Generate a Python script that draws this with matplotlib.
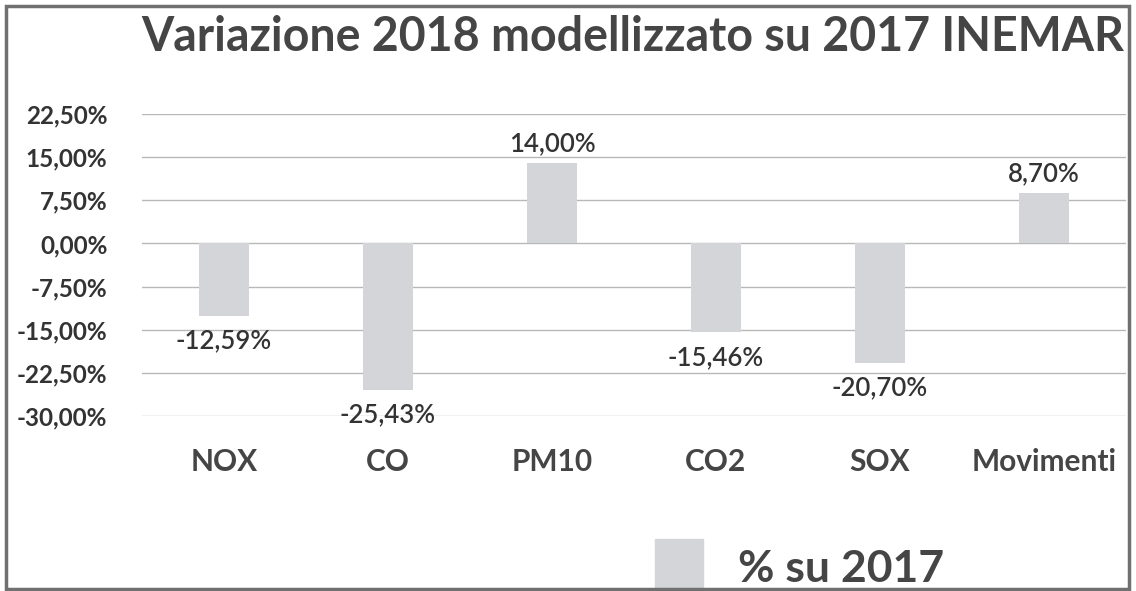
import matplotlib
matplotlib.use("Agg")
import matplotlib.pyplot as plt
from matplotlib.patches import Rectangle

categories = ["NOX", "CO", "PM10", "CO2", "SOX", "Movimenti"]
values = [-12.59, -25.43, 14.00, -15.46, -20.70, 8.70]
yticks = [-30.0, -22.5, -15.0, -7.5, 0.0, 7.5, 15.0, 22.5]
series_name = "% su 2017"
title = "Variazione 2018 modellizzato su 2017 INEMAR"


def pct(v):
    return f"{v:.2f}%".replace(".", ",")


plt.rcParams["font.family"] = ["Lato", "DejaVu Sans"]
text_col = "#333333"
bar_col = "#d4d5d8"

fig = plt.figure(figsize=(11.36, 5.91), dpi=100)
ax = fig.add_axes([0.125, 0.296, 0.866, 0.511])

x = range(len(categories))
ax.bar(x, values, width=0.305, color=bar_col, zorder=2)

ax.set_xlim(-0.5, len(categories) - 0.5)
ax.set_ylim(-30, 22.5)
ax.set_yticks(yticks)
ax.set_yticklabels([pct(t) for t in yticks], fontsize=17.5, fontweight="bold", color=text_col)
ax.set_xticks(list(x))
ax.set_xticklabels(categories, fontsize=21.5, fontweight="bold", color="#454545")
ax.tick_params(axis="both", length=0)
ax.tick_params(axis="x", pad=23)
ax.tick_params(axis="y", pad=25)
ax.grid(axis="y", color="#b8b8b8", linewidth=1.0, zorder=0)
for s in ax.spines.values():
    s.set_visible(False)

for i, v in enumerate(values):
    if v < 0:
        ax.annotate(pct(v), (i, v), xytext=(0, -9), textcoords="offset points",
                    ha="center", va="top", fontsize=18.5, fontweight=600, color=text_col)
    else:
        ax.annotate(pct(v), (i, v), xytext=(0, 5), textcoords="offset points",
                    ha="center", va="bottom", fontsize=18.5, fontweight=600, color=text_col)

fig.text(0.557, 0.937, title, ha="center", va="center", fontsize=33.5,
         fontweight="bold", color="#454545")

# legend
fig.patches.append(Rectangle((655 / 1136, 0.0), 48 / 1136, 52 / 591,
                             transform=fig.transFigure, color=bar_col))
fig.text(738 / 1136, 0.038, series_name, ha="left", va="center", fontsize=32,
         fontweight="bold", color="#454545")

# outer frame
fig.patches.append(Rectangle((6 / 1136, 2 / 591), 1123 / 1136, 583 / 591,
                             transform=fig.transFigure, fill=False,
                             edgecolor="#707070", linewidth=2.5))

fig.savefig("out.png", dpi=100, facecolor="white")
